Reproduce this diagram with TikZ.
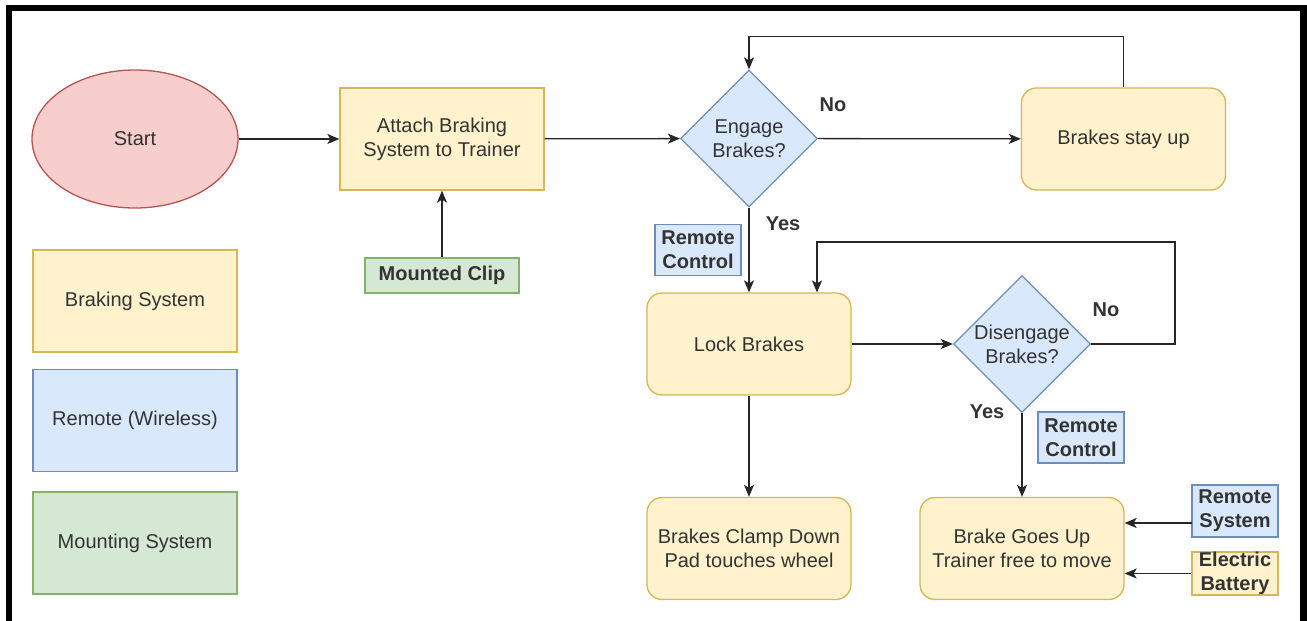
\documentclass[tikz,border=0pt]{standalone}
\usepackage{fontspec}
\setmainfont{Liberation Sans}
\usetikzlibrary{shapes.geometric,arrows.meta,positioning}

\definecolor{brakefill}{HTML}{FFF2CC}
\definecolor{brakeline}{HTML}{D6B656}
\definecolor{remotefill}{HTML}{DAE8FC}
\definecolor{remoteline}{HTML}{6C8EBF}
\definecolor{mountfill}{HTML}{D5E8D4}
\definecolor{mountline}{HTML}{82B366}
\definecolor{startfill}{HTML}{F8CECC}
\definecolor{startline}{HTML}{B85450}
\definecolor{txt}{HTML}{333333}

\tikzset{
  base/.style={line width=1.3pt, align=center, text=txt, inner sep=2pt,
    font=\fontsize{20}{24}\selectfont},
  flowbox/.style={base, draw=brakeline, fill=brakefill, rounded corners=15pt,
    minimum width=204pt, minimum height=102pt},
  legendbox/.style={base, minimum width=204pt, minimum height=102pt},
  decision/.style={base, diamond, draw=remoteline, fill=remotefill,
    minimum width=137pt, minimum height=137pt, inner sep=0pt},
  tag/.style={base, minimum width=86pt, minimum height=51pt, inner sep=0pt,
    font=\fontsize{20}{24}\selectfont\bfseries},
  bluetag/.style={tag, draw=remoteline, fill=remotefill},
  yesno/.style={text=txt, font=\fontsize{20}{24}\selectfont\bfseries},
  flow/.style={line width=1.3pt, draw=black!85, -{Stealth[length=12pt,width=10pt,inset=3pt]}}
}

\begin{document}
\begin{tikzpicture}[x=1pt,y=-1pt]
  \useasboundingbox (0,0) rectangle (1307,621);

  % Draw the frame
  \fill[black] (6,5) rectangle (1307,11);
  \fill[black] (6,5) rectangle (12,621);
  \fill[black] (1300,5) rectangle (1307,621);

  % Legend
  \node[legendbox, draw=brakeline, fill=brakefill] (legbrake) at (135,301) {Braking System};
  \node[legendbox, draw=remoteline, fill=remotefill] (legremote) at (135,420.5) {Remote (Wireless)};
  \node[legendbox, draw=mountline, fill=mountfill] (legmount) at (135,543) {Mounting System};

  % Main flow
  \node[base, ellipse, draw=startline, fill=startfill, minimum width=206pt, minimum height=138pt] (start) at (135,139) {Start};
  \node[flowbox, rounded corners=0pt] (attach) at (442,139) {Attach Braking\\System to Trainer};
  \node[tag, draw=mountline, fill=mountfill, minimum width=154pt, minimum height=35pt] (clip) at (442,275.5) {Mounted Clip};
  \node[decision] (engage) at (749,138.5) {Engage\\Brakes?};
  \node[flowbox] (stayup) at (1123.5,139) {Brakes stay up};
  \node[bluetag] (remote1) at (698,250) {Remote\\Control};
  \node[flowbox] (lock) at (749,344) {Lock Brakes};
  \node[decision] (diseng) at (1022,344) {Disengage\\Brakes?};
  \node[bluetag] (remote2) at (1081,437.5) {Remote\\Control};
  \node[flowbox] (clamp) at (749,548.5) {Brakes Clamp Down\\Pad touches wheel};
  \node[flowbox] (goesup) at (1022,548.5) {Brake Goes Up\\Trainer free to move};
  \node[bluetag, minimum height=52pt] (remsys) at (1235,511) {Remote\\System};
  \node[tag, draw=brakeline, fill=brakefill, minimum height=43pt] (batt) at (1235,573.5) {Electric\\Battery};

  % Yes / No labels
  \node[yesno] (no1) at (833,105) {No};
  \node[yesno] (yes1) at (783,224) {Yes};
  \node[yesno] (no2) at (1106,310) {No};
  \node[yesno] (yes2) at (987,412) {Yes};

  % Connectors
  \draw[flow] (start) -- (attach);
  \draw[flow] (clip) -- (attach);
  \draw[flow] (attach) -- (engage);
  \draw[flow] (engage) -- (stayup);
  \draw[flow] (stayup.north) -- ++(0,-51) -| (engage.north);
  \draw[flow] (engage) -- (lock);
  \draw[flow] (lock) -- (diseng);
  \coordinate (loopR) at (1175,242);
  \draw[flow] (diseng.east) -| (loopR) -| ([xshift=68pt]lock.north);
  \draw[flow] (diseng) -- (goesup);
  \draw[flow] (lock) -- (clamp);
  \coordinate (rs) at (1192,523);
  \draw[flow] (rs) -- (goesup.east |- rs);
  \draw[flow] (batt) -- (goesup.east |- batt);

\end{tikzpicture}
\end{document}
